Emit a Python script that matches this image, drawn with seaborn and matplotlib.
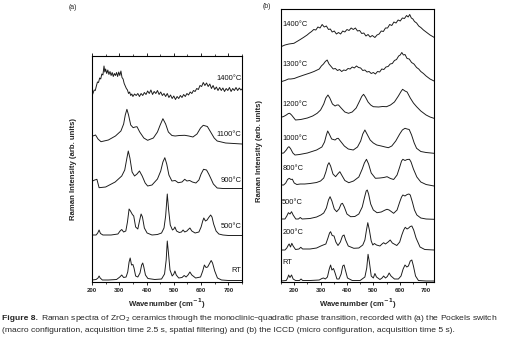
import numpy as np
import pandas as pd
import matplotlib
matplotlib.use("Agg")
import matplotlib.pyplot as plt
from matplotlib.ticker import MultipleLocator
import seaborn as sns

# ---------------- data: panel (a) ----------------
a_RT_x = [200, 215, 222, 226, 230, 238, 260, 290, 302, 309, 316, 325, 331, 336, 340, 345, 350, 354, 360, 368,
          376, 382, 386, 390, 396, 405, 430, 455, 466, 472, 476, 480, 486, 494, 500, 504, 509, 518, 530, 538,
          545, 552, 559, 566, 580, 598, 606, 612, 618, 624, 630, 637, 642, 650, 660, 675, 700, 750]
a_RT_y = [2, 2.5, 4, 6, 4, 2, 2, 2.5, 5, 7, 4.5, 5, 10, 20, 24, 17, 17.5, 14, 6, 5,
          9, 17, 19, 15, 7, 3.5, 2.5, 3, 8, 22, 41, 30, 12, 6, 8, 11, 7, 4, 4.5, 6.5,
          5, 7, 10, 7, 4, 5, 11, 17, 14.5, 15, 18, 21.5, 19, 11, 4, 2, 1.5, 1.5]

a_500_x = [200, 215, 221, 226, 231, 240, 270, 295, 303, 309, 316, 324, 330, 336, 341, 348, 353, 360, 368, 375,
           380, 385, 392, 402, 420, 440, 455, 464, 470, 476, 481, 487, 495, 500, 504, 510, 520, 528, 534, 540,
           548, 553, 559, 566, 578, 592, 600, 606, 610, 616, 622, 628, 635, 640, 646, 655, 665, 680, 700, 750]
a_500_y = [47, 47, 49, 52, 48.5, 47, 47, 48, 51, 52.5, 50, 51, 60, 73, 71, 67.5, 66, 55, 53, 62,
           68, 65, 54, 49, 47, 47.5, 49, 54, 66, 88, 72, 57, 52, 53, 55, 51, 49.5, 50, 52, 50,
           51, 52.5, 54, 51, 49, 50, 55, 61, 64, 61, 62, 64.5, 67, 65, 58, 51, 48, 47, 46.5, 46.5]

a_900_x = [202, 210, 218, 226, 250, 285, 309, 320, 328, 333, 339, 347, 356, 365, 374, 384, 395, 404, 420, 440,
           452, 460, 467, 474, 482, 493, 505, 516, 530, 540, 548, 558, 568, 581, 592, 600, 609, 620, 628, 635,
           645, 659, 680, 710, 750]
a_900_y = [101, 102, 102.7, 94.3, 95, 100, 106, 112, 124, 131, 124, 110, 106, 108, 111, 106, 99, 96, 97, 103,
           111, 120, 124.3, 118, 107, 101, 101.5, 99.3, 100, 102.7, 101, 101.5, 100, 99, 102, 108, 112.7, 112, 108, 104,
           98, 94, 93.5, 93.5, 93.5]

a_1100_x = [203, 213, 222, 233, 260, 286, 306, 316, 322, 328, 334, 342, 351, 358, 365, 375, 390, 404, 425, 440,
            450, 460, 470, 480, 493, 505, 520, 540, 555, 570, 585, 598, 608, 623, 635, 648, 659, 690, 720, 750]
a_1100_y = [146, 147, 143, 140.3, 142, 146, 151, 158, 167, 172.7, 167, 157, 154.3, 155, 155.3, 150, 144, 141.7, 144, 150,
            157, 163.3, 158, 150, 146.5, 146, 146.5, 146.7, 146, 145, 148, 154, 156.7, 155.5, 150, 144, 141, 139, 138.5, 138]

a_1400_x = [200, 204, 208, 212, 216, 220, 224, 228, 232, 236, 240, 244, 247, 250, 254, 258, 262, 266, 270, 274,
            278, 282, 286, 290, 294, 298, 302, 306, 310, 314, 318, 322, 326, 330, 334, 338, 342, 346, 350, 356,
            362, 368, 374, 380, 386, 392, 398, 404, 410, 416, 422, 428, 434, 440, 446, 452, 458, 464, 470, 476,
            482, 488, 494, 500, 506, 512, 518, 524, 530, 536, 542, 548, 554, 560, 566, 572, 578, 584, 590, 596,
            602, 608, 614, 620, 626, 632, 638, 644, 650, 656, 662, 668, 674, 680, 686, 692, 698, 704, 710, 716,
            722, 728, 734, 740, 746, 750]
a_1400_y = [186, 189, 192, 191.5, 196, 200, 199.5, 204, 203, 208, 207, 216, 210, 213, 208.5, 212, 207.5, 210.5, 206.5, 209.5,
            205.5, 208.5, 206.5, 209.5, 205.5, 210, 206.5, 211, 204.5, 203, 198.5, 196, 193.5, 192, 188.5, 190, 186.5, 188, 185.5, 188,
            186.5, 188.5, 185.5, 188.5, 186.5, 189.5, 187.5, 191, 188.5, 192, 187.5, 190.5, 188.5, 191.5, 187.5, 190, 186.5, 188.5, 185.5, 188.5,
            184.5, 187, 183.5, 186, 182.5, 185.5, 183.5, 186.5, 184.5, 187.5, 185.5, 188.5, 187, 190, 188.5, 191.5, 190.5, 193.5, 192.5, 196.5,
            195.5, 199.5, 196.5, 199, 195.5, 198, 193.5, 196.5, 192.5, 195, 191.5, 194.5, 191.5, 194, 190.5, 193.5, 191.5, 194.5, 190.5, 193.5,
            191.5, 194.5, 191.5, 194, 192, 193]

a_labels = ["1400°C", "1100°C", "900°C", "500°C", "RT"]
a_label_y = [204, 148, 101, 55, 11]

# ---------------- data: panel (b) ----------------
b_RT_x = [150, 170, 175, 179, 184, 190, 196, 205, 220, 226, 232, 260, 295, 305, 311, 318, 326, 333, 338, 343,
          349, 355, 362, 370, 378, 384, 389, 394, 402, 420, 450, 468, 475, 480, 485, 492, 500, 506, 512, 525,
          533, 539, 546, 553, 560, 567, 580, 595, 605, 613, 620, 627, 633, 640, 646, 652, 660, 671, 700, 730]
b_RT_y = [1, 1.5, 4, 7, 4.5, 7, 3, 1.5, 1.5, 3, 1.5, 1.5, 2, 3.5, 4, 3, 5, 13, 17, 12,
          13.5, 9, 3, 3, 8, 16, 17, 12, 4, 1.5, 1.5, 5, 14, 27.7, 20, 6, 4, 8.5, 5, 2.5,
          4, 6, 4, 5.5, 9, 6, 3, 3, 6, 13, 17, 15, 16, 21, 22, 16, 6, 1.5, 1, 1]

b_200_x = [150, 165, 172, 178, 181, 186, 191, 196, 205, 218, 225, 232, 260, 285, 301, 310, 320, 328, 334, 338,
           344, 351, 358, 366, 375, 383, 389, 395, 405, 426, 445, 460, 468, 474, 479, 485, 492, 498, 504, 512,
           525, 533, 539, 546, 556, 564, 572, 589, 600, 608, 615, 621, 628, 634, 640, 646, 653, 662, 677, 695, 730]
b_200_y = [32, 32, 34, 37, 38, 35, 38.7, 36, 32.5, 33, 34.7, 33, 33, 34, 36, 37, 38, 44, 49, 50.3,
           46.5, 46, 40, 36.5, 40, 46, 47, 42, 36, 33.7, 34, 37, 42, 52, 59.3, 52, 41, 37, 38.5, 37,
           36, 38, 39.3, 38, 40, 42, 39, 36.5, 40, 47, 52, 54.7, 53, 54, 55.5, 56, 52, 44, 35, 32.5, 32]

b_500_x = [150, 165, 172, 178, 184, 190, 196, 206, 216, 223, 230, 260, 285, 301, 312, 322, 330, 336, 343, 352,
           361, 370, 378, 383, 390, 400, 414, 430, 445, 458, 467, 473, 477, 482, 490, 500, 514, 530, 545, 552,
           560, 577, 590, 600, 607, 612, 620, 628, 635, 640, 648, 656, 665, 680, 700, 730]
b_500_y = [63, 63, 66, 69.3, 68, 70.3, 67, 63, 63, 64.5, 63, 63.5, 65, 67, 69, 74, 82, 85.3, 81, 73,
           70.3, 73, 78, 78.7, 75, 68, 65.3, 65.5, 68, 75, 85, 91, 92, 88, 78, 72, 69.3, 70, 72, 72.7,
           72, 68.7, 72, 80, 85, 87, 86, 87.5, 88, 87, 80, 72, 67, 64, 63, 62.7]

b_800_x = [150, 160, 168, 175, 181, 188, 193, 200, 210, 223, 240, 260, 285, 300, 312, 320, 327, 332, 338, 347,
           357, 365, 373, 380, 392, 407, 425, 445, 458, 466, 474, 482, 492, 508, 525, 540, 552, 565, 577, 590,
           600, 607, 612, 620, 628, 637, 643, 652, 665, 680, 700, 730]
b_800_y = [97, 97, 99, 102.5, 103.7, 102.5, 102.8, 99, 97.5, 98, 98, 98.5, 99.5, 101, 104, 110, 117, 119.3, 116, 108,
           105.3, 108, 110.3, 107, 101.5, 99.3, 101, 105, 113, 119, 122.7, 118, 109, 103.7, 104, 104.5, 105.3, 103.5, 102.5, 107,
           115, 121, 122.7, 121.5, 122.5, 122.7, 120, 113, 105, 100, 97.5, 96]

b_1000_x = [150, 160, 170, 176, 180, 186, 195, 203, 220, 250, 285, 305, 315, 322, 327, 333, 342, 355, 362, 367,
            375, 390, 405, 424, 440, 452, 460, 468, 476, 488, 500, 513, 530, 545, 557, 570, 585, 600, 610, 620,
            628, 636, 645, 655, 664, 680, 700, 730]
b_1000_y = [128.7, 129, 132, 134.5, 135.3, 133.5, 129, 127, 127.5, 129, 132, 135, 140, 147, 151, 148, 143, 142, 143.5, 143.7,
            141, 136, 133, 132, 135, 141, 148, 152, 148, 142, 139, 137, 136, 135, 134.3, 136, 141, 148, 152, 153.7,
            153, 152.5, 147, 139, 133.7, 130.5, 129.5, 128.7]

b_1200_x = [150, 160, 170, 178, 183, 190, 205, 225, 250, 270, 287, 300, 312, 320, 328, 335, 345, 355, 362, 368,
            378, 392, 406, 420, 435, 448, 456, 463, 470, 480, 490, 500, 520, 535, 550, 565, 580, 595, 605, 611,
            620, 628, 640, 652, 664, 680, 700, 715, 730]
b_1200_y = [164.7, 165.5, 167, 168.5, 168.7, 167, 162, 162.5, 164, 166, 168.7, 172, 178, 184, 187, 184, 178, 176, 177, 177,
            174, 170, 168.7, 170, 174, 181, 185.5, 187.7, 185, 180, 177, 175.3, 175, 175.5, 175.3, 177, 180, 186, 190.5, 192.7,
            191, 190, 184, 179, 175.3, 171, 167, 165, 163.7]

b_1300_x = [150, 165, 178, 187, 200, 215, 237, 260, 275, 287, 295, 303, 311, 318, 325, 332, 340, 348, 356, 364,
            372, 380, 388, 396, 404, 412, 420, 428, 436, 444, 452, 460, 468, 476, 484, 492, 500, 508, 516, 524,
            532, 540, 548, 556, 564, 572, 580, 588, 596, 602, 608, 614, 620, 628, 636, 645, 654, 664, 672, 680,
            690, 700, 715, 730]
b_1300_y = [200.3, 201.5, 203, 203, 203.5, 205, 207, 209, 210.5, 212, 213, 216, 218, 220.5, 222, 218, 215.5, 213, 213.5, 211.5,
            212.5, 210.5, 212, 211.5, 213.5, 213, 215, 214, 216, 214.5, 214, 211.5, 212, 210, 210.5, 208.5, 209.5, 208, 210.5, 210,
            213, 212.5, 215, 215.5, 218, 218.5, 221.5, 222.5, 226, 227, 229.5, 227, 227.5, 223.5, 223, 219.5, 218, 214.5, 213, 210.5,
            208.5, 206, 203, 201]

b_1400_x = [150, 165, 180, 199, 220, 235, 249, 258, 266, 274, 282, 290, 298, 306, 314, 322, 330, 337, 344, 352,
            360, 368, 376, 384, 392, 400, 408, 416, 424, 432, 440, 448, 456, 464, 472, 480, 488, 496, 506, 514,
            522, 530, 538, 546, 554, 562, 570, 578, 586, 594, 602, 610, 618, 626, 632, 638, 644, 650, 656, 664,
            672, 680, 690, 700, 715, 730]
b_1400_y = [235.3, 237, 238, 238.7, 242, 244.5, 247, 249, 250.5, 252.5, 252, 255, 254, 257.5, 255, 256, 252.5, 253, 250, 251,
            248, 249.5, 248, 251, 250, 252.5, 251.5, 254, 252.5, 254, 251, 251.5, 248.5, 249, 246, 247.5, 245, 246.5, 244.5, 247,
            248, 251, 250.5, 254, 254, 257.5, 256.5, 260, 259, 262, 261, 264, 263.5, 266.5, 265, 267.5, 264, 263, 260.5, 259,
            256, 254.5, 252, 250, 247, 244.7]

b_labels = ["1400°C", "1300°C", "1200°C", "1000°C", "800°C", "500°C", "200°C", "RT"]
b_label_y = [257, 217, 177, 144, 114, 79, 49, 19]

x_ticks = [200, 300, 400, 500, 600, 700]

caption_bold = "Figure 8."
caption_1 = ("Raman spectra of ZrO$_2$ ceramics through the monoclinic\u2013quadratic phase transition, "
             "recorded with (a) the Pockels switch")
caption_2 = ("(macro configuration, acquisition time 2.5 s, spatial filtering) and (b) the ICCD "
             "(micro configuration, acquisition time 5 s).")

# ---------------- build tables ----------------
def long_table(series):
    frames = []
    for name, xs, ys in series:
        frames.append(pd.DataFrame({"wn": xs, "I": ys, "spectrum": name}))
    return pd.concat(frames, ignore_index=True)

df_a = long_table([("RT", a_RT_x, a_RT_y), ("500", a_500_x, a_500_y), ("900", a_900_x, a_900_y),
                   ("1100", a_1100_x, a_1100_y), ("1400", a_1400_x, a_1400_y)])
df_b = long_table([("RT", b_RT_x, b_RT_y), ("200", b_200_x, b_200_y), ("500", b_500_x, b_500_y),
                   ("800", b_800_x, b_800_y), ("1000", b_1000_x, b_1000_y), ("1200", b_1200_x, b_1200_y),
                   ("1300", b_1300_x, b_1300_y), ("1400", b_1400_x, b_1400_y)])

# ---------------- figure ----------------
sns.set_style("ticks")
plt.rcParams["font.family"] = ["Liberation Sans", "DejaVu Sans"]
W, H = 505, 337
fig = plt.figure(figsize=(W / 100, H / 100), dpi=100)

def px_axes(l, t, r, b):
    return fig.add_axes([l / W, 1 - b / H, (r - l) / W, (b - t) / H])

ax_a = px_axes(92, 56, 242, 282)
ax_b = px_axes(281, 9, 434, 282)

line_col = "#1a1a1a"
for ax, df in ((ax_a, df_a), (ax_b, df_b)):
    names = list(dict.fromkeys(df["spectrum"]))
    sns.lineplot(data=df, x="wn", y="I", hue="spectrum", units="spectrum", estimator=None, sort=False,
                 palette={n: line_col for n in names}, legend=False, linewidth=0.68, ax=ax)

ax_a.set_xlim(200, 750)
ax_a.set_ylim(0, 226)
ax_b.set_xlim(150, 730)
ax_b.set_ylim(0, 273)

for ax in (ax_a, ax_b):
    ax.set_xticks(x_ticks)
    ax.xaxis.set_minor_locator(MultipleLocator(50))
    ax.set_yticks([])
    for s in ax.spines.values():
        s.set_visible(True)
        s.set_linewidth(0.8)
        s.set_color("black")
    ax.tick_params(axis="x", which="major", length=2.5, width=0.6, pad=1.5, labelsize=4.4, color="black")
    ax.tick_params(axis="x", which="minor", length=1.5, width=0.5, color="black")
    for lab in ax.get_xticklabels():
        lab.set_fontweight("bold")
    ax.set_xlabel("Wavenumber (cm$^{\\mathbf{-1}}$)", fontsize=5.6, fontweight="bold", labelpad=3)
    ax.set_ylabel("Raman Intensity (arb. units)", fontsize=5.6, fontweight="bold")

ax_a.tick_params(axis="x", which="both", top=True)
ax_a.yaxis.set_label_coords(-0.1, 0.5)
ax_b.yaxis.set_label_coords(-0.118, 0.48)

for lab, y in zip(a_labels, a_label_y):
    ax_a.text(0.995, y, lab, transform=ax_a.get_yaxis_transform(), ha="right", va="center",
              fontsize=5.4, color="#111111")
for lab, y in zip(b_labels, b_label_y):
    ax_b.text(0.008, y, lab, transform=ax_b.get_yaxis_transform(), ha="left", va="center",
              fontsize=5.4, color="#111111")

fig.text(73 / W, 1 - 7.5 / H, "(a)", fontsize=5, ha="center", va="center")
fig.text(267 / W, 1 - 6 / H, "(b)", fontsize=5, ha="center", va="center")

fig.text(2 / W, 1 - 318 / H, caption_bold, fontsize=6.1, fontweight="bold", ha="left", va="center")
fig.text(41 / W, 1 - 318 / H, caption_1, fontsize=6.1, ha="left", va="center")
fig.text(2 / W, 1 - 330.5 / H, caption_2, fontsize=6.1, ha="left", va="center")

fig.savefig("out.png", dpi=100, facecolor="white")
